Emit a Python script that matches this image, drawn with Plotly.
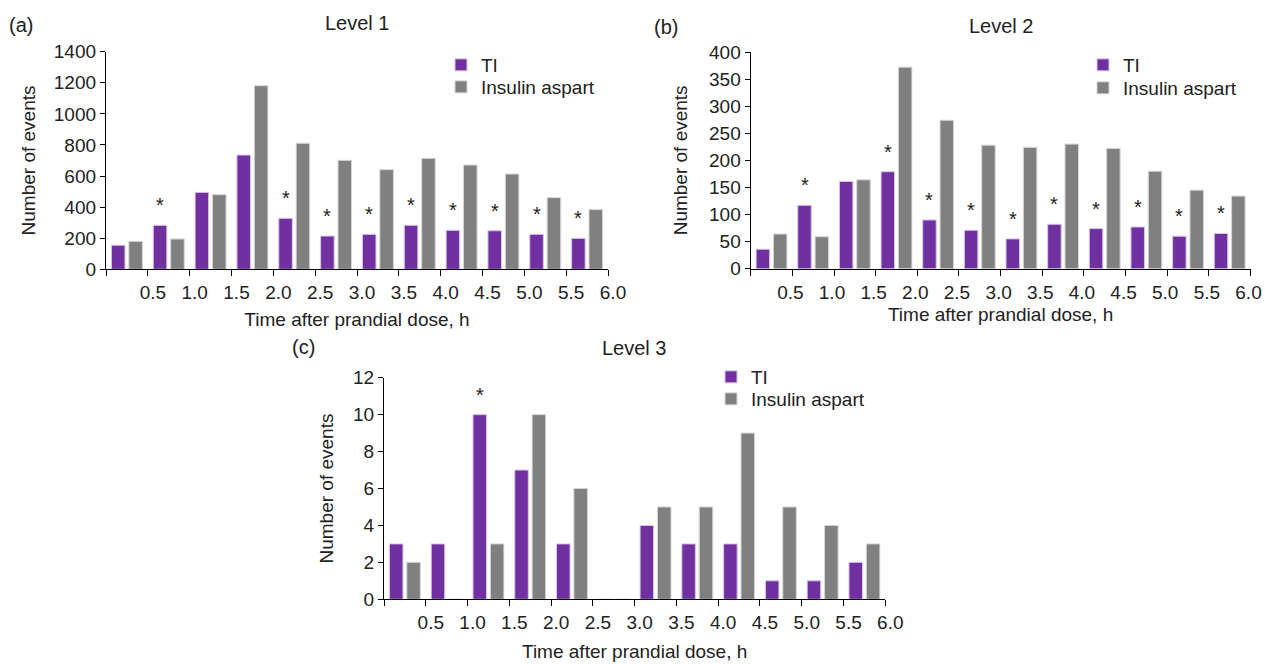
import plotly.graph_objects as go

# ---- data ----
bin_centers = [0.25, 0.75, 1.25, 1.75, 2.25, 2.75, 3.25, 3.75, 4.25, 4.75, 5.25, 5.75]
tick_vals = [0, 0.5, 1.0, 1.5, 2.0, 2.5, 3.0, 3.5, 4.0, 4.5, 5.0, 5.5, 6.0]
tick_text = ["", "0.5", "1.0", "1.5", "2.0", "2.5", "3.0", "3.5", "4.0", "4.5", "5.0", "5.5", "6.0"]

l1_ti = [155, 283, 495, 735, 328, 214, 225, 283, 251, 248, 225, 199]
l1_ia = [180, 195, 480, 1181, 811, 701, 641, 714, 671, 613, 461, 384]
l1_sig = [0, 1, 0, 0, 1, 1, 1, 1, 1, 1, 1, 1]

l2_ti = [36, 117, 161, 179, 90, 71, 55, 82, 74, 77, 60, 65]
l2_ia = [64, 59, 164, 372, 274, 228, 224, 230, 222, 180, 145, 134]
l2_sig = [0, 1, 0, 1, 1, 1, 1, 1, 1, 1, 1, 1]

l3_ti = [3, 3, 10, 7, 3, 0, 4, 3, 3, 1, 1, 2]
l3_ia = [2, 0, 3, 10, 6, 0, 5, 5, 9, 5, 4, 3]
l3_sig = [0, 0, 1, 0, 0, 0, 0, 0, 0, 0, 0, 0]

series_names = ["TI", "Insulin aspart"]
panel_titles = ["Level 1", "Level 2", "Level 3"]
panel_labels = ["(a)", "(b)", "(c)"]
y_ranges = [1400, 400, 12]
y_dticks = [200, 50, 2]

# ---- style ----
PURPLE = "#7030A0"
GREY = "#808080"
FONT = "Liberation Sans, Arial, sans-serif"
FS = 19
TXT = "#222"
BAR_W = 0.162
TI_OFF = -0.185
IA_OFF = 0.023

W, H = 1265, 664
panels = [
    dict(x=[106, 608], y=[51.7, 269.3], leg_x=441, leg_y=[65, 87], title=[357, 23], lab=[21, 25], ystd=13, xstd=10, shift=5),
    dict(x=[750.7, 1250.5], y=[52, 268.7], leg_x=1083, leg_y=[65, 88], title=[1001, 26], lab=[666, 27], ystd=16, xstd=6, shift=-2),
    dict(x=[384, 885.3], y=[377.7, 599.3], leg_x=711, leg_y=[377, 399], title=[634, 348], lab=[303, 347], ystd=14, xstd=12, shift=5),
]
data = [(l1_ti, l1_ia, l1_sig), (l2_ti, l2_ia, l2_sig), (l3_ti, l3_ia, l3_sig)]

fig = go.Figure()
annotations = []
layout = {}
leg_count = 0

for i, (p, (ti, ia, sig)) in enumerate(zip(panels, data)):
    n = "" if i == 0 else str(i + 1)
    xa, ya = "x" + n, "y" + n
    legs = []
    for k in range(2):
        leg_count += 1
        legs.append("legend" if leg_count == 1 else "legend" + str(leg_count))
    fig.add_trace(go.Bar(
        x=bin_centers, y=ti, width=BAR_W, offset=TI_OFF, name=series_names[0],
        marker=dict(color=PURPLE, line=dict(color="#d8c8e6", width=1)),
        xaxis=xa, yaxis=ya, legend=legs[0], hoverinfo="x+y+name",
    ))
    fig.add_trace(go.Bar(
        x=bin_centers, y=ia, width=BAR_W, offset=IA_OFF, name=series_names[1],
        marker=dict(color=GREY, line=dict(color="#d6d6d6", width=1)),
        xaxis=xa, yaxis=ya, legend=legs[1], hoverinfo="x+y+name",
    ))
    axis_common = dict(
        showline=True, linecolor="black", linewidth=1.3,
        ticks="outside", ticklen=5, tickwidth=1.3, tickcolor="black",
        showgrid=False, zeroline=False, automargin=False,
        ticklabeloverflow="allow",
        tickfont=dict(family=FONT, size=FS, color=TXT),
    )
    layout["xaxis" + n] = dict(
        axis_common,
        domain=[p["x"][0] / W, p["x"][1] / W],
        anchor=ya, range=[0, 6], tickmode="array",
        tickvals=tick_vals, ticktext=tick_text, ticklen=6,
        ticklabelshift=p["shift"],
        title=dict(text="Time after prandial dose, h", standoff=p["xstd"],
                   font=dict(family=FONT, size=FS, color=TXT)),
    )
    layout["yaxis" + n] = dict(
        axis_common,
        domain=[1 - p["y"][1] / H, 1 - p["y"][0] / H],
        anchor=xa, range=[0, y_ranges[i]], dtick=y_dticks[i], tick0=0,
        title=dict(text="Number of events", standoff=p["ystd"],
                   font=dict(family=FONT, size=FS, color=TXT)),
    )
    for k in range(2):
        layout[legs[k]] = dict(
            x=p["leg_x"] / W, y=1 - p["leg_y"][k] / H,
            xanchor="left", yanchor="middle", bgcolor="rgba(0,0,0,0)",
            font=dict(family=FONT, size=FS, color=TXT),
            itemclick=False, itemdoubleclick=False,
        )
    annotations.append(dict(
        text=panel_titles[i], x=p["title"][0] / W, y=1 - p["title"][1] / H,
        xref="paper", yref="paper", xanchor="center", yanchor="middle",
        showarrow=False, font=dict(family=FONT, size=20, color=TXT),
    ))
    annotations.append(dict(
        text=panel_labels[i], x=p["lab"][0] / W, y=1 - p["lab"][1] / H,
        xref="paper", yref="paper", xanchor="center", yanchor="middle",
        showarrow=False, font=dict(family=FONT, size=20, color=TXT),
    ))
    for c, v, s in zip(bin_centers, ti, sig):
        if s:
            annotations.append(dict(
                text="*", x=c + TI_OFF + BAR_W / 2, y=v, xref=xa, yref=ya,
                xanchor="center", yanchor="bottom", yshift=7, showarrow=False,
                font=dict(family=FONT, size=20, color=TXT),
            ))

fig.update_layout(
    width=W, height=H, margin=dict(l=0, r=0, t=0, b=0, autoexpand=False),
    paper_bgcolor="white", plot_bgcolor="white",
    barmode="overlay", showlegend=True,
    annotations=annotations,
    **layout,
)

fig.write_html(
    "out.html",
    config={"displayModeBar": False},
    post_script="document.body.style.margin='0px';document.body.style.overflow='hidden';",
)
